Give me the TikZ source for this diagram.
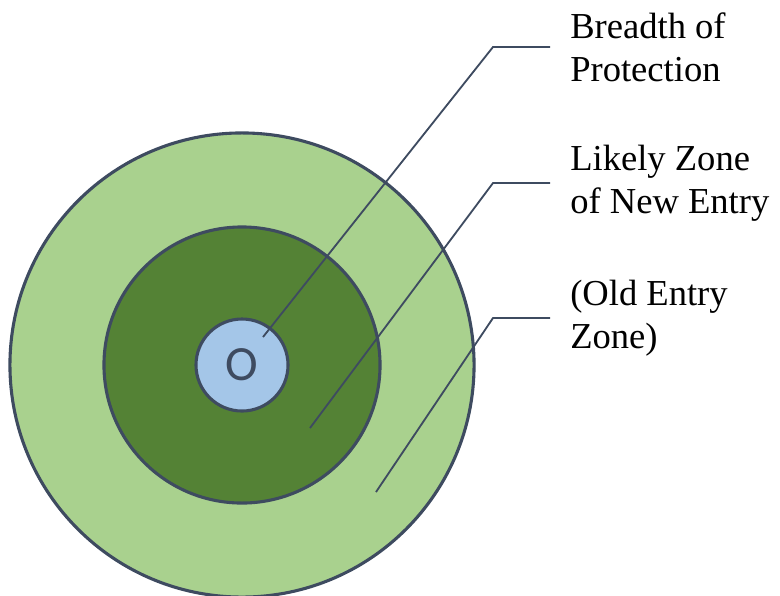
\documentclass[tikz,border=0pt]{standalone}
\usepackage{fontspec}
\setmainfont{Liberation Serif}
\newfontfamily\ringfont{Carlito}
\definecolor{ringline}{HTML}{3E4B60}
\definecolor{outerfill}{HTML}{A9D18E}
\definecolor{middlefill}{HTML}{548235}
\definecolor{innerfill}{HTML}{A4C6E8}
\tikzset{
  zone/.style={circle, draw=ringline, line width=2.2pt, inner sep=0pt},
  lead/.style={draw=ringline, line width=1.3pt},
  tag/.style={anchor=west, align=left, inner ysep=0pt, inner xsep=0.5cm,
    font=\fontsize{26}{30.6}\selectfont}
}
\begin{document}
\begin{tikzpicture}[x=0.025cm, y=-0.025cm]
\useasboundingbox (0,0) rectangle (780,595);

\node[zone, fill=outerfill, minimum size=11.6cm] (outer) at (242,365) {};
\node[zone, fill=middlefill, minimum size=6.9cm] (middle) at (242,365) {};
\node[zone, fill=innerfill, minimum size=2.3cm, font=\ringfont\fontsize{35}{35}\selectfont, text=ringline] (inner) at (242,365) {O};

\node[tag] (t1) at (550,47) {Breadth of\\Protection};
\node[tag] (t2) at (550,183) {Likely Zone\\of New Entry};
\node[tag] (t3) at (550,318) {(Old Entry\\Zone)};

\coordinate (p1) at (263,337);
\coordinate (p2) at (310,428);
\coordinate (p3) at (376,492);
\coordinate (e1) at (493,47);
\coordinate (e2) at (493,183);
\coordinate (e3) at (493,318);

\draw[lead] (p1) -- (e1) -- (t1.west);
\draw[lead] (p2) -- (e2) -- (t2.west);
\draw[lead] (p3) -- (e3) -- (t3.west);
\end{tikzpicture}
\end{document}
